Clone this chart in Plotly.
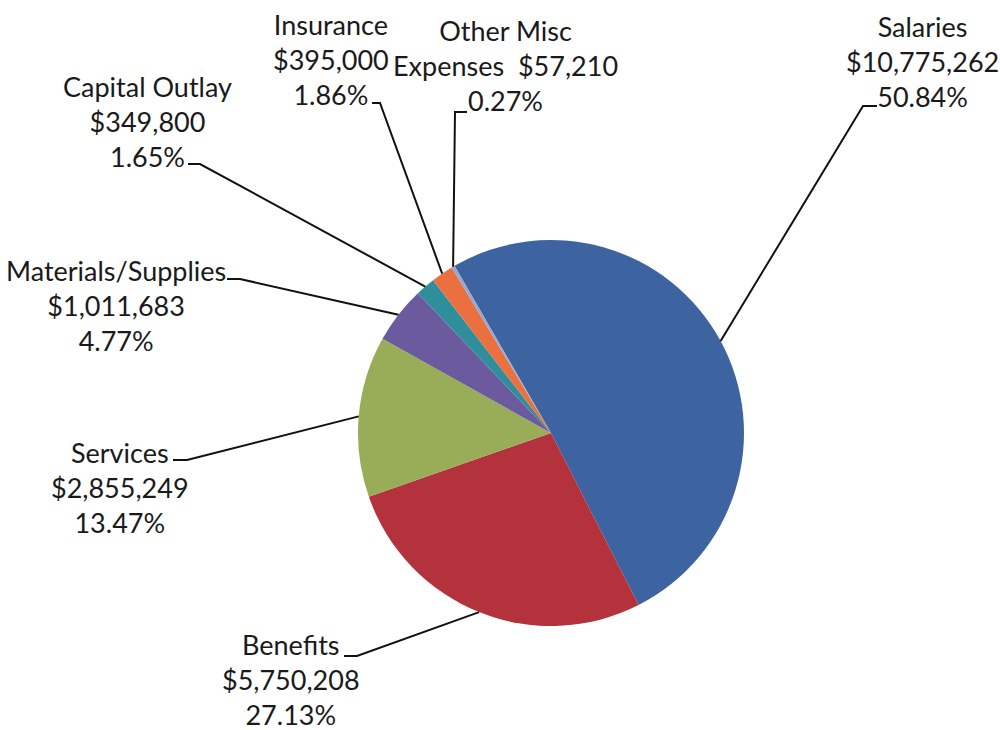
import math
import plotly.graph_objects as go

# Budget categories and amounts (dollars)
categories = ["Salaries", "Benefits", "Services", "Materials/Supplies",
              "Capital Outlay", "Insurance", "Other Misc Expenses"]
amounts = [10775262, 5750208, 2855249, 1011683, 349800, 395000, 57210]
colors = ["#3E63A1", "#B3323B", "#99AC57", "#6B5A9E", "#2F8E9C", "#EA713F", "#93A8D2"]

# Label text lines for each category
label_heads = ["Salaries", "Benefits", "Services", "Materials/Supplies",
               "Capital Outlay", "Insurance", "Other Misc"]
money_prefix = ["", "", "", "", "", "", "Expenses&nbsp; "]

W, H = 1000, 730
CX, CY, R = 551, 433, 193          # pie centre / radius in pixels
ROTATION = -30                     # start angle of first slice (deg, clockwise from 12 o'clock)

# label block centres (px) and leader elbow segments (text end -> elbow)
label_pos = [(922, 61), (291, 679), (120, 487), (116, 305), (147, 121), (331, 59), (505, 65)]
elbows = [((877, 106), (863, 106)), ((344, 656), (357, 656)), ((173, 460), (187, 460)),
          ((227, 279), (240, 279)), ((188, 164), (200, 164)), ((372, 103), (380, 103)),
          ((467, 112), (455, 112))]


def px(x):
    return x / W


def py(y):
    return 1 - y / H


total = sum(amounts)

fig = go.Figure(go.Pie(
    labels=categories,
    values=amounts,
    sort=False,
    direction="clockwise",
    rotation=ROTATION,
    marker=dict(colors=colors, line=dict(width=0)),
    textinfo="none",
    hoverinfo="label+value+percent",
    showlegend=False,
    domain=dict(x=[px(CX - R), px(CX + R)], y=[py(CY + R), py(CY - R)]),
))

annotations = []
shapes = []
cum = 0.0
for i, (name, val) in enumerate(zip(categories, amounts)):
    frac = val / total
    mid = ROTATION + 360 * (cum + frac / 2)
    cum += frac
    a = math.radians(mid)
    ex, ey = CX + R * math.sin(a), CY - R * math.cos(a)
    (x0, y0), (x1, y1) = elbows[i]
    path = (f"M {px(x0)} {py(y0)} L {px(x1)} {py(y1)} L {px(ex)} {py(ey)}")
    shapes.append(dict(type="path", xref="paper", yref="paper", path=path,
                       line=dict(color="#111111", width=2)))
    text = f"{label_heads[i]}<br>{money_prefix[i]}${val:,}<br>{frac * 100:.2f}%"
    lx, ly = label_pos[i]
    annotations.append(dict(x=px(lx), y=py(ly), xref="paper", yref="paper",
                            text=text, showarrow=False, align="center",
                            xanchor="center", yanchor="middle",
                            font=dict(family="Lato", size=27, color="#1a1a1a")))

fig.update_layout(
    width=W, height=H,
    margin=dict(l=0, r=0, t=0, b=0),
    paper_bgcolor="white",
    plot_bgcolor="white",
    annotations=annotations,
    shapes=shapes,
)

fig.write_html("out.html")
